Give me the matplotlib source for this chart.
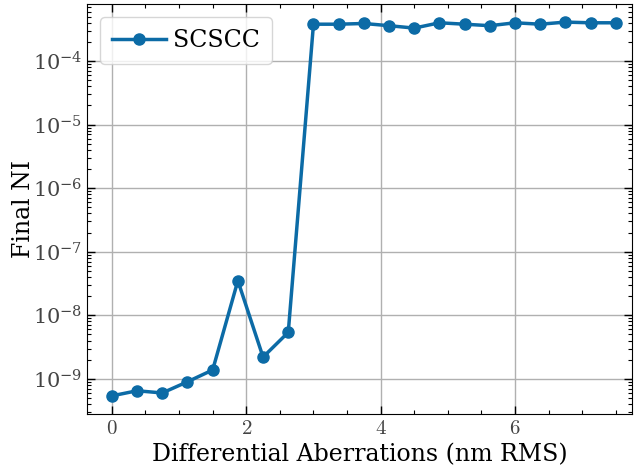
import matplotlib
matplotlib.use("Agg")
import matplotlib.pyplot as plt
import numpy as np
from matplotlib.ticker import (MultipleLocator, FixedLocator, FixedFormatter,
                               LogLocator, NullFormatter)

# differential aberration levels (nm RMS)
aberrations = [0.0, 0.375, 0.75, 1.125, 1.5, 1.875, 2.25, 2.625, 3.0, 3.375, 3.75,
               4.125, 4.5, 4.875, 5.25, 5.625, 6.0, 6.375, 6.75, 7.125, 7.5]
# final normalized intensity
final_ni = [5.4e-10, 6.5e-10, 6.0e-10, 9.0e-10, 1.38e-9, 3.5e-8, 2.2e-9, 5.4e-9,
            3.8e-4, 3.8e-4, 3.9e-4, 3.6e-4, 3.3e-4, 4.0e-4, 3.8e-4, 3.6e-4,
            4.0e-4, 3.8e-4, 4.1e-4, 4.0e-4, 4.0e-4]
x_ticks = [0, 2, 4, 6]
y_ticks = [1e-9, 1e-8, 1e-7, 1e-6, 1e-5, 1e-4]

plt.rcParams['font.family'] = 'DejaVu Serif'
plt.rcParams['mathtext.fontset'] = 'cm'

fig = plt.figure(figsize=(6.35, 4.69), dpi=100)
ax = fig.add_axes([87 / 635, 55 / 469, 545 / 635, 410 / 469])

ax.plot(aberrations, final_ni, '-o', color='#0C6BA6', lw=2.5, ms=8, label='SCSCC')
ax.set_yscale('log')
ax.set_xlim(-0.37, 7.74)
ax.set_ylim(2.8e-10, 7.9e-4)

ax.grid(True, color='#b0b0b0', lw=1)
ax.xaxis.set_major_locator(FixedLocator(x_ticks))
ax.xaxis.set_major_formatter(FixedFormatter([f'${t}$' for t in x_ticks]))
ax.xaxis.set_minor_locator(MultipleLocator(0.5))
ax.yaxis.set_major_locator(FixedLocator(y_ticks))
ax.yaxis.set_minor_locator(LogLocator(base=10, subs=np.arange(2, 10), numticks=20))
ax.yaxis.set_minor_formatter(NullFormatter())
ax.tick_params(which='both', direction='in', top=True, right=True, labelsize=15,
               labelcolor='#444444')
ax.tick_params(which='major', length=6, width=1)
ax.tick_params(which='minor', length=3, width=0.8)

ax.set_xlabel('Differential Aberrations (nm RMS)', fontsize=17, labelpad=4)
ax.set_ylabel('Final NI', fontsize=17, labelpad=-2)
ax.legend(loc='upper left', fontsize=17, handlelength=2.3, borderpad=0.5,
          handletextpad=0.3, fancybox=True, borderaxespad=0.55)

fig.savefig('out.png', dpi=100)
